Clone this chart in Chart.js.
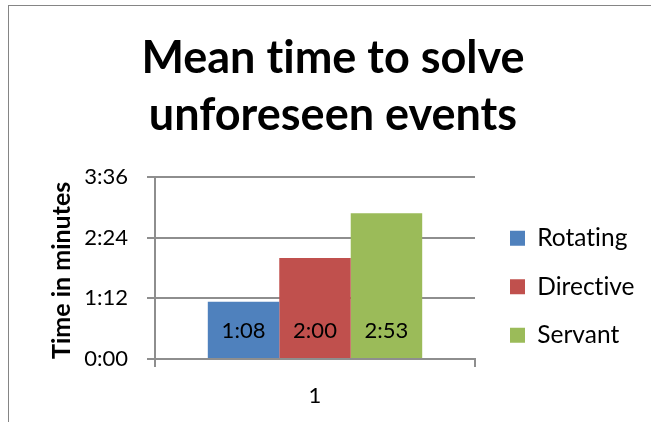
<!DOCTYPE html>
<html>
<head>
<meta charset="utf-8">
<script src="https://cdn.jsdelivr.net/npm/chart.js@4/dist/chart.umd.min.js"></script>
<style>
  html, body { margin: 0; padding: 0; background: #fff; }
  #wrap { position: relative; width: 651px; height: 422px; overflow: hidden; }
  #frame { position: absolute; left: 8px; top: 5px; width: 700px; height: 500px;
           border-left: 1.5px solid #858585; border-top: 1.5px solid #858585; }
  canvas { position: absolute; left: 0; top: 0; }
</style>
</head>
<body>
<div id="wrap">
  <div id="frame"></div>
  <canvas id="chart" width="651" height="422"></canvas>
</div>
<script>
// Mean solve times, in seconds
const categories = ['1'];
const seriesNames = ['Rotating', 'Directive', 'Servant'];
const rotating = [68];
const directive = [120];
const servant = [173];
const seriesColors = ['#4F81BD', '#C0504D', '#9BBB59'];

// Y axis: 0:00 to 3:36 in steps of 1:12
const axisMax = 216;
const axisStep = 72;
const tickLabels = ['0:00', '1:12', '2:24', '3:36'];

const FONT = 'Lato, "Open Sans", sans-serif';
const LINE = '#8e8e8e';

function toClock(sec) {
  const m = Math.floor(sec / 60);
  const s = Math.round(sec - m * 60);
  return m + ':' + String(s).padStart(2, '0');
}

// Plain glyphs (no ligatures) for all canvas text
const plainText = {
  id: 'plainText',
  beforeUpdate(chart) { this.apply(chart.ctx); },
  beforeDraw(chart) { this.apply(chart.ctx); },
  apply(ctx) {
    ctx.textRendering = 'optimizeSpeed';
    ctx.letterSpacing = '0.01px';
  }
};

// Value labels drawn inside the base of each bar
const barValueLabels = {
  id: 'barValueLabels',
  afterDatasetsDraw(chart) {
    const ctx = chart.ctx;
    ctx.save();
    ctx.font = '22px ' + FONT;
    ctx.fillStyle = '#000';
    ctx.textAlign = 'center';
    ctx.textBaseline = 'middle';
    chart.data.datasets.forEach((ds, i) => {
      const meta = chart.getDatasetMeta(i);
      meta.data.forEach((bar, j) => {
        ctx.fillText(toClock(ds.data[j]), bar.x, bar.base - 27);
      });
    });
    ctx.restore();
  }
};

// Places the legend column to the right of the plot
const legendPlacement = {
  id: 'legendPlacement',
  afterLayout(chart) {
    const lg = chart.legend;
    if (!lg) return;
    const pad = lg.options.labels.padding;
    lg.left = 510 - pad;
    lg.right = chart.width;
    lg.width = lg.right - lg.left;
    const colH = lg.columnSizes && lg.columnSizes[0] ? lg.columnSizes[0].height : 150;
    lg.top = 226 - pad;
    lg.bottom = lg.top + colH + pad;
  }
};

const datasetValues = [rotating, directive, servant];

new Chart(document.getElementById('chart'), {
  type: 'bar',
  data: {
    labels: categories,
    datasets: seriesNames.map((name, i) => ({
      label: name,
      data: datasetValues[i],
      backgroundColor: seriesColors[i],
      borderColor: seriesColors[i],
      borderWidth: 0,
      categoryPercentage: 0.67,
      barPercentage: 1.0
    }))
  },
  options: {
    responsive: false,
    animation: false,
    events: [],
    layout: { padding: { left: 49, right: 34, top: 0, bottom: 0 } },
    plugins: {
      title: {
        display: true,
        text: ['Mean time to solve', 'unforeseen events'],
        color: '#000',
        font: { family: FONT, size: 45, weight: 'bold', lineHeight: '57px' },
        padding: { top: 30, bottom: 33 }
      },
      legend: {
        display: true,
        position: 'right',
        labels: {
          color: '#000',
          font: { family: FONT, size: 24.5 },
          boxWidth: 15,
          boxHeight: 15,
          padding: 24
        }
      },
      tooltip: { enabled: false }
    },
    scales: {
      x: {
        grid: { offset: true, drawOnChartArea: false, drawTicks: true, tickLength: 8, color: LINE, lineWidth: 2 },
        border: { color: LINE, width: 2 },
        ticks: { color: '#000', font: { family: FONT, size: 22 }, padding: 16 },
        afterFit(scale) { scale.height = 63; }
      },
      y: {
        min: 0,
        max: axisMax,
        grid: { color: LINE, lineWidth: 2, tickLength: 8, drawTicks: true },
        border: { color: LINE, width: 2 },
        ticks: {
          stepSize: axisStep,
          color: '#000',
          font: { family: FONT, size: 22 },
          padding: 19,
          callback: (v, i) => tickLabels[i]
        },
        title: {
          display: true,
          text: 'Time in minutes',
          align: 'start',
          color: '#000',
          font: { family: FONT, size: 25, weight: 'bold' },
          padding: { top: -2.5, bottom: 0 }
        },
        afterFit(scale) { scale.width = 106; }
      }
    }
  },
  plugins: [plainText, barValueLabels, legendPlacement]
});
</script>
</body>
</html>
